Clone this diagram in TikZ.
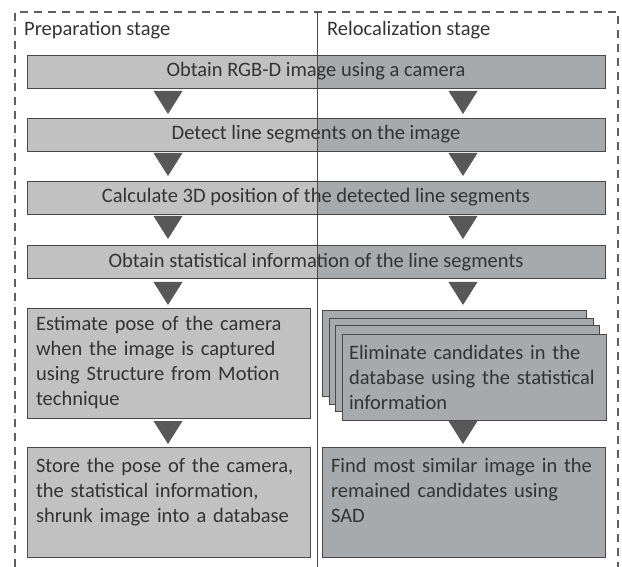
\documentclass[tikz,border=0pt]{standalone}
\usepackage{fontspec}
\setmainfont{Carlito}
\usetikzlibrary{positioning}

\definecolor{prepgray}{RGB}{193,193,193}
\definecolor{relgray}{RGB}{166,170,172}
\definecolor{edgegray}{RGB}{72,72,72}
\definecolor{arrowgray}{RGB}{88,88,88}
\definecolor{framegray}{RGB}{95,95,95}

\newcommand{\stagefont}{\fontsize{20.5}{25}\selectfont}

\begin{document}
\begin{tikzpicture}[x=1pt, y=-1pt,
    % box styles
    widestep/.style={draw=edgegray, fill=prepgray, minimum width=578pt, minimum height=33pt,
        inner sep=0pt, text=black!80, font=\stagefont,
        path picture={\fill[relgray] (divtop |- path picture bounding box.north)
            rectangle (path picture bounding box.south east);}},
    prepstep/.style={draw=edgegray, fill=prepgray, minimum width=283pt, minimum height=110pt,
        text width=265pt, align=left, inner sep=9pt, text=black!80, font=\stagefont},
    relstep/.style={prepstep, fill=relgray},
    stackcard/.style={draw=edgegray, fill=relgray, minimum width=264pt, minimum height=86pt,
        inner sep=0pt},
    downarrow/.style={fill=arrowgray, draw=none},
    stagelabel/.style={anchor=west, inner sep=0pt, text=black!80, font=\stagefont},
    frame/.style={framegray, line width=1.8pt, dash pattern=on 8pt off 6pt}
]
\useasboundingbox (0,0) rectangle (622,567);
\coordinate (divtop) at (317,12);
\coordinate (divbot) at (317,567);

% Stage frame and titles
\draw[frame] (15,567) -- (15,12) -- (618,12) -- (618,567);
\node[stagelabel] (preplabel) at (24,30) {Preparation stage};
\node[stagelabel] (rellabel) at (327,30) {Relocalization stage};

% Steps shared by both stages
\node[widestep] (rgbd) at (316,71.5) {Obtain RGB-D image using a camera};
\node[widestep] (detect) at (316,134.5) {Detect line segments on the image};
\node[widestep] (pos3d) at (316,197.5) {Calculate 3D position of the detected line segments};
\node[widestep] (stats) at (316,262) {Obtain statistical information of the line segments};

% Preparation stage
\node[prepstep] (pose) at (168.5,363) {Estimate pose of the camera\\when the image is captured\\using Structure from Motion\\technique};
\node[prepstep] (store) at (168.5,502.5) {Store the pose of the camera,\\the statistical information,\\shrunk image into a database\\\mbox{}};

% Relocalization stage: stacked candidate cards
\foreach \dx/\dy in {0/0, 6.7/7.7, 13.4/15.4} {
  \node[stackcard] at (454+\dx,353+\dy) {};
}
\node[stackcard, text width=250pt, align=left, inner xsep=7pt, text=black!80, font=\stagefont]
    (elim) at (474,377) {Eliminate candidates in the\\database using the statistical\\information};
\node[relstep] (sad) at (463.5,502.5) {Find most similar image in the\\remained candidates using\\SAD\\\mbox{}};

% Stage divider
\draw[edgegray, line width=0.9pt] (divtop) -- (divbot);

% Flow arrows (left column, right column)
\foreach \x/\y in {168/91, 463/91, 168/153, 463/153, 168/216, 463/216,
                   168/282, 463/282, 168/421, 463/421} {
  \fill[downarrow] (\x-14.5,\y) -- (\x+14.5,\y) -- (\x,\y+23) -- cycle;
}

\end{tikzpicture}
\end{document}
